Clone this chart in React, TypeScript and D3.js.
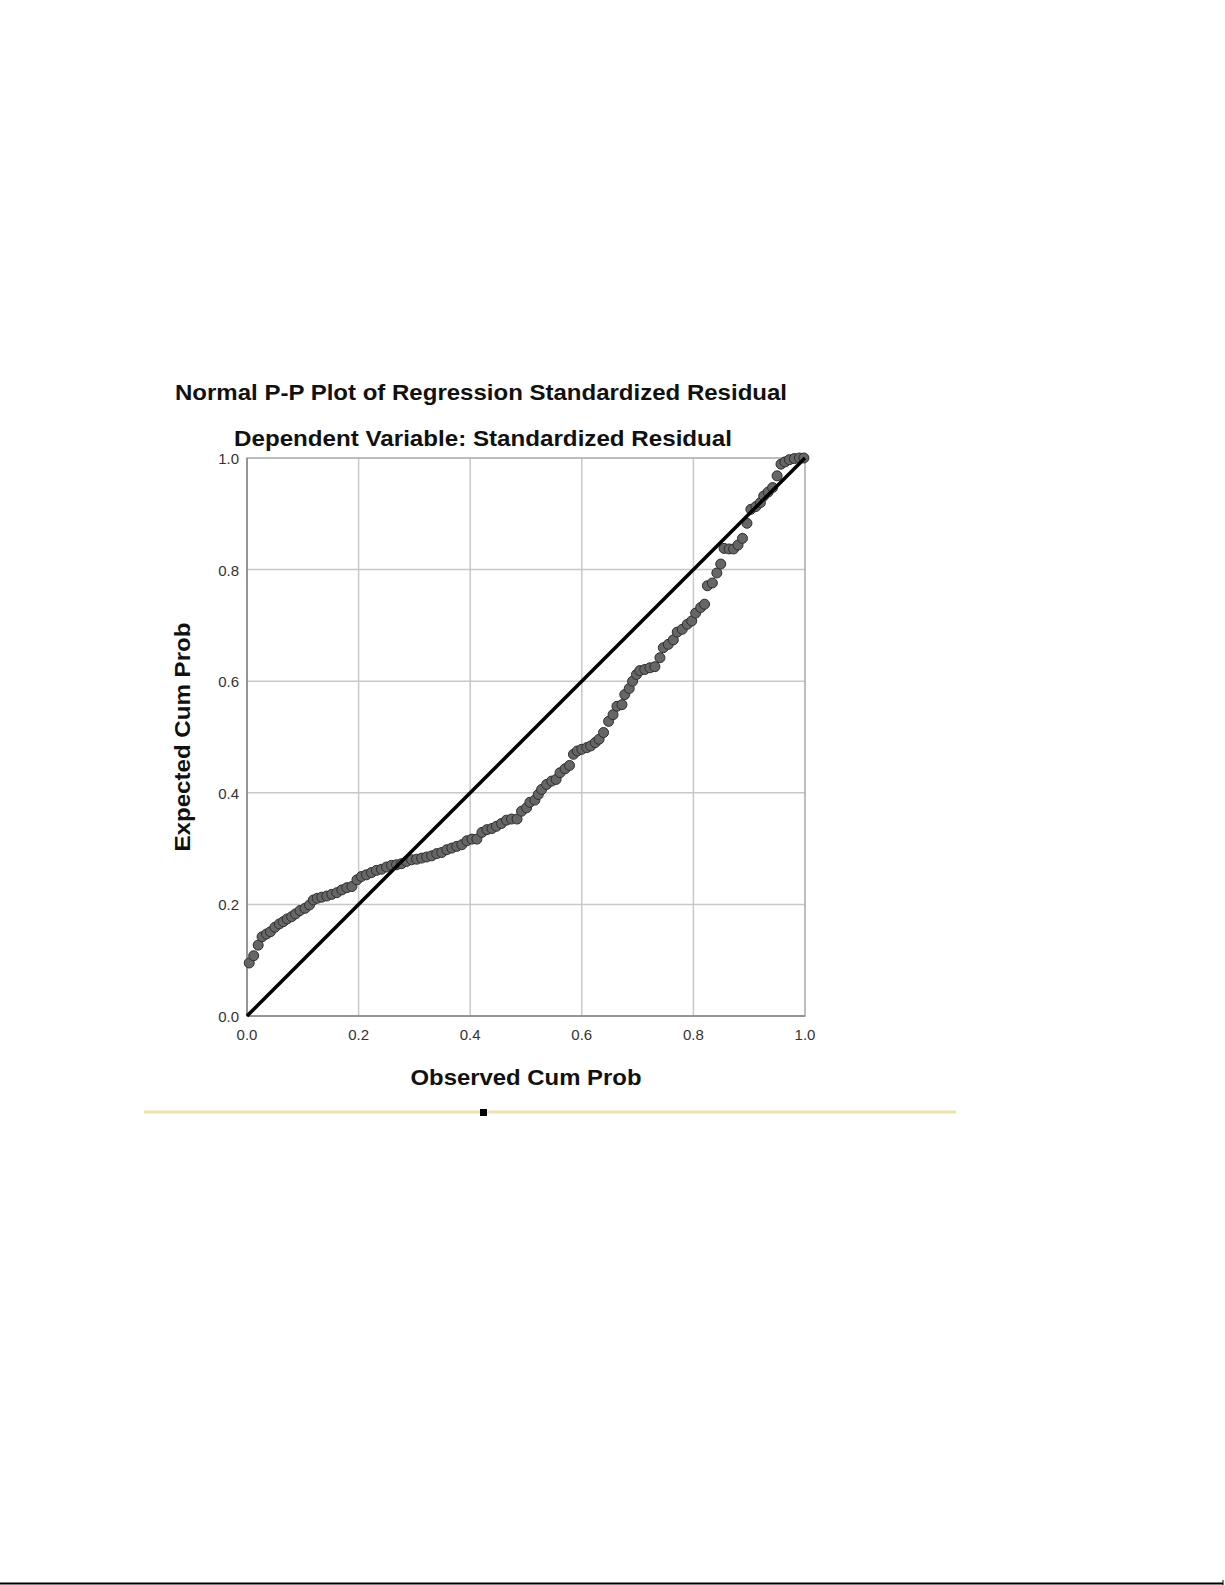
import React from "react";
import * as d3 from "d3";

const titleText = "Normal P-P Plot of Regression Standardized Residual";
const subtitleText = "Dependent Variable: Standardized Residual";
const xAxisTitle = "Observed Cum Prob";
const yAxisTitle = "Expected Cum Prob";
const tickValues = [0, 0.2, 0.4, 0.6, 0.8, 1.0];

const observedCumProb = [
  0.004, 0.012, 0.020, 0.027, 0.035, 0.042, 0.050, 0.058, 0.065, 0.072,
  0.080, 0.087, 0.095, 0.104, 0.112, 0.119, 0.126, 0.134, 0.143, 0.152,
  0.161, 0.170, 0.179, 0.188, 0.197, 0.205, 0.214, 0.223, 0.232, 0.241,
  0.250, 0.259, 0.268, 0.277, 0.286, 0.295, 0.304, 0.313, 0.322, 0.331,
  0.340, 0.349, 0.358, 0.367, 0.376, 0.385, 0.394, 0.403, 0.412, 0.421,
  0.430, 0.439, 0.447, 0.456, 0.465, 0.474, 0.484, 0.492, 0.501, 0.507,
  0.516, 0.522, 0.528, 0.537, 0.546, 0.554, 0.561, 0.570, 0.578, 0.585,
  0.592, 0.600, 0.609, 0.616, 0.624, 0.631, 0.639, 0.648, 0.656, 0.663,
  0.672, 0.677, 0.685, 0.691, 0.698, 0.704, 0.713, 0.722, 0.731, 0.740,
  0.746, 0.755, 0.764, 0.771, 0.780, 0.789, 0.797, 0.804, 0.813, 0.820,
  0.825, 0.834, 0.842, 0.849, 0.855, 0.864, 0.872, 0.880, 0.888, 0.896,
  0.903, 0.912, 0.920, 0.926, 0.934, 0.942, 0.950, 0.957, 0.964, 0.972,
  0.981, 0.990, 0.998,
];

const expectedCumProb = [
  0.095, 0.108, 0.127, 0.142, 0.147, 0.151, 0.159, 0.165, 0.169, 0.174,
  0.178, 0.183, 0.189, 0.193, 0.199, 0.208, 0.211, 0.213, 0.215, 0.218,
  0.221, 0.226, 0.230, 0.232, 0.244, 0.250, 0.253, 0.257, 0.261, 0.263,
  0.267, 0.270, 0.271, 0.273, 0.277, 0.280, 0.281, 0.283, 0.285, 0.287,
  0.291, 0.293, 0.298, 0.301, 0.304, 0.307, 0.314, 0.317, 0.317, 0.329,
  0.334, 0.336, 0.340, 0.345, 0.351, 0.353, 0.353, 0.367, 0.373, 0.383,
  0.387, 0.397, 0.406, 0.415, 0.421, 0.424, 0.436, 0.443, 0.449, 0.469,
  0.475, 0.478, 0.481, 0.484, 0.490, 0.496, 0.508, 0.528, 0.540, 0.555,
  0.558, 0.576, 0.587, 0.600, 0.612, 0.619, 0.621, 0.624, 0.626, 0.642,
  0.660, 0.666, 0.674, 0.688, 0.693, 0.702, 0.708, 0.722, 0.732, 0.738,
  0.771, 0.776, 0.794, 0.810, 0.838, 0.837, 0.837, 0.844, 0.856, 0.883,
  0.908, 0.913, 0.920, 0.932, 0.939, 0.947, 0.968, 0.989, 0.993, 0.997,
  0.999, 1.000, 1.000,
];

const W = 1225;
const H = 1585;
const plot = { left: 247, right: 805, top: 458, bottom: 1016 };
const FONT = "'Liberation Sans', Arial, sans-serif";

export default function App() {
  const x = d3.scaleLinear().domain([0, 1]).range([plot.left, plot.right]);
  const y = d3.scaleLinear().domain([0, 1]).range([plot.bottom, plot.top]);
  const points = observedCumProb.map((v, i) => ({ ox: v, ey: expectedCumProb[i] }));
  const diag = d3.line<number>().x((d) => x(d)).y((d) => y(d))([0, 1]) || "";
  const cx = (plot.left + plot.right) / 2;
  const cy = (plot.top + plot.bottom) / 2;
  const fmt = d3.format(".1f");

  return (
    <svg
      width={W}
      height={H}
      style={{ position: "absolute", left: 0, top: 0, background: "#fff" }}
      fontFamily={FONT}
    >
      <rect x={0} y={0} width={W} height={H} fill="#fff" />
      {/* titles */}
      <text x={481} y={400} textAnchor="middle" fontSize={22} fontWeight="bold" fill="#111"
        textLength={612} lengthAdjust="spacingAndGlyphs">{titleText}</text>
      <text x={483} y={446} textAnchor="middle" fontSize={22} fontWeight="bold" fill="#111"
        textLength={498} lengthAdjust="spacingAndGlyphs">{subtitleText}</text>

      {/* grid */}
      {tickValues.slice(1, -1).map((t) => (
        <line key={"gx" + t} x1={x(t)} x2={x(t)} y1={plot.top} y2={plot.bottom} stroke="#c8c8c8" strokeWidth={1.5} />
      ))}
      {tickValues.slice(1, -1).map((t) => (
        <line key={"gy" + t} x1={plot.left} x2={plot.right} y1={y(t)} y2={y(t)} stroke="#c8c8c8" strokeWidth={1.5} />
      ))}
      {/* frame */}
      <rect x={plot.left} y={plot.top} width={plot.right - plot.left} height={plot.bottom - plot.top}
        fill="none" stroke="#a8a8a8" strokeWidth={1.5} />
      <line x1={plot.left} x2={plot.left} y1={plot.top} y2={plot.bottom} stroke="#888" strokeWidth={1.5} />
      <line x1={plot.left} x2={plot.right} y1={plot.bottom} y2={plot.bottom} stroke="#888" strokeWidth={1.5} />

      {/* tick labels */}
      {tickValues.map((t) => (
        <text key={"xt" + t} x={x(t)} y={1040} textAnchor="middle" fontSize={15} fill="#333">{fmt(t)}</text>
      ))}
      {tickValues.map((t) => (
        <text key={"yt" + t} x={239} y={y(t) + 6} textAnchor="end" fontSize={15} fill="#333">{fmt(t)}</text>
      ))}

      {/* points */}
      {points.map((p, i) => (
        <circle key={i} cx={x(p.ox)} cy={y(p.ey)} r={5} fill="#666" stroke="#2e2e2e" strokeWidth={1} />
      ))}

      {/* reference diagonal */}
      <path d={diag} stroke="#000" strokeWidth={3.5} fill="none" />

      {/* axis titles */}
      <text x={cx} y={1085} textAnchor="middle" fontSize={22} fontWeight="bold" fill="#111"
        textLength={231} lengthAdjust="spacingAndGlyphs">{xAxisTitle}</text>
      <text transform={`translate(190,${cy}) rotate(-90)`} textAnchor="middle" fontSize={22} fontWeight="bold" fill="#111"
        textLength={229} lengthAdjust="spacingAndGlyphs">{yAxisTitle}</text>

      {/* separator line with handle */}
      <line x1={144} x2={956} y1={1112} y2={1112} stroke="#f1e3a8" strokeWidth={3} />
      <rect x={480} y={1109} width={7} height={7} fill="#000" />

      {/* bottom page edge */}
      <line x1={0} x2={1223} y1={1583.5} y2={1583.5} stroke="#000" strokeWidth={2} />
      <line x1={1223} x2={1223} y1={1580} y2={1585} stroke="#000" strokeWidth={1} />
    </svg>
  );
}
